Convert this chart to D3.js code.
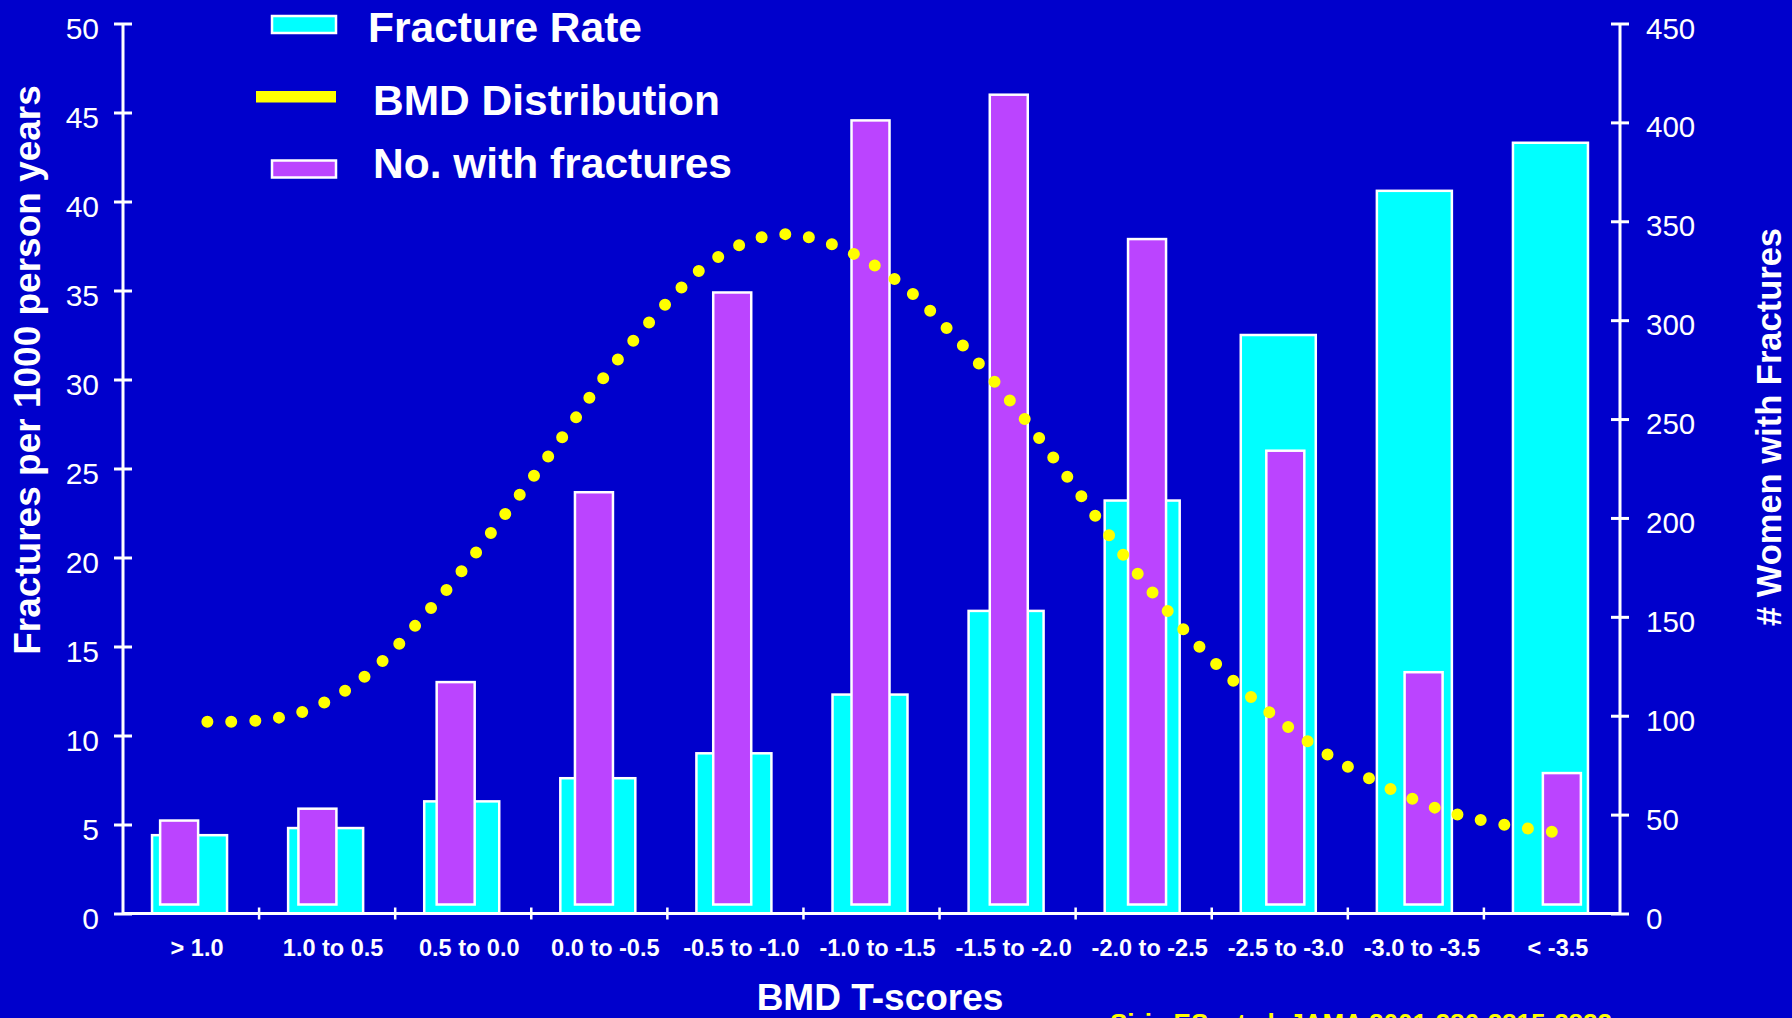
<!DOCTYPE html>
<html>
<head>
<meta charset="utf-8">
<script src="https://cdn.jsdelivr.net/npm/d3@7"></script>
<style>
  html, body { margin: 0; padding: 0; background: #0000cc; overflow: hidden; }
  svg { display: block; }
  text { font-family: "Liberation Sans", Arial, Helvetica, sans-serif; fill: #ffffff; }
</style>
</head>
<body>
<svg id="chart" width="1792" height="1018"></svg>
<script>
// T-score bands along the x axis
const categories = ["> 1.0", "1.0 to 0.5", "0.5 to 0.0", "0.0 to -0.5", "-0.5 to -1.0",
  "-1.0 to -1.5", "-1.5 to -2.0", "-2.0 to -2.5", "-2.5 to -3.0", "-3.0 to -3.5", "< -3.5"];

// Fractures per 1000 person years (left axis)
const fractureRate = [4.4, 4.8, 6.3, 7.6, 9.0, 12.3, 17.0, 23.2, 32.5, 40.6, 43.3];

// Number of women with fractures (right axis)
const withFractures = [47, 53, 117, 213, 314, 401, 414, 341, 234, 122, 71];

// BMD distribution curve: [T-score, height on the right-axis scale]
const bmdDistribution = [
  [1.19, 97], [1.01, 97.5], [0.84, 102], [0.68, 113], [0.54, 128.5], [0.42, 146.5],
  [0.30, 165.5], [0.03, 214], [-0.13, 244], [-0.28, 273.5], [-0.51, 310.5], [-0.64, 327.5],
  [-0.80, 340], [-0.93, 343.5], [-1.06, 340.5], [-1.22, 331], [-1.37, 317], [-1.56, 291],
  [-1.79, 254], [-2.00, 215], [-2.21, 175], [-2.44, 137], [-2.70, 103], [-2.99, 75],
  [-3.31, 54], [-3.48, 47.5], [-3.66, 43], [-3.75, 41.3]
];

// Axis ticks
const leftTicks = [0, 5, 10, 15, 20, 25, 30, 35, 40, 45, 50];
const rightTicks = [0, 50, 100, 150, 200, 250, 300, 350, 400, 450];

const COLORS = { bg: "#0000cc", cyan: "#00ffff", purple: "#bb44ff", yellow: "#ffff00", white: "#ffffff" };

const svg = d3.select("#chart");
svg.append("rect").attr("width", 1792).attr("height", 1018).attr("fill", COLORS.bg);

const plot = { left: 123, right: 1620, top: 23.5, bottom: 913.5 };

const x = d3.scaleBand().domain(categories).range([plot.left, plot.right]).padding(0);
const xCount = d3.scaleBand().domain(categories).range([110, 1631]).padding(0);
const xT = d3.scaleLinear().domain([1.0, -3.5])
  .range([plot.left + x.step(), plot.left + 10 * x.step()]);
const yLeft = d3.scaleLinear().domain([0, 50]).range([plot.bottom, plot.top]);
const yRight = d3.scaleLinear().domain([0, 450]).range([plot.bottom, plot.top]);

// Fracture rate bars
const rateW = 75;
svg.append("g").selectAll("rect").data(categories).join("rect")
  .attr("x", (c) => x(c) + x.step() / 2 - rateW / 2 - 1.5)
  .attr("y", (c, i) => yLeft(fractureRate[i]))
  .attr("width", rateW)
  .attr("height", (c, i) => yLeft(0) - yLeft(fractureRate[i]))
  .attr("fill", COLORS.cyan)
  .attr("stroke", COLORS.white)
  .attr("stroke-width", 2.5);

// Counts of women with fractures
const countW = 38;
const countLift = 9;
svg.append("g").selectAll("rect").data(categories).join("rect")
  .attr("x", (c) => xCount(c) + xCount.step() / 2 - countW / 2)
  .attr("y", (c, i) => yRight(withFractures[i]))
  .attr("width", countW)
  .attr("height", (c, i) => yRight(0) - countLift - yRight(withFractures[i]))
  .attr("fill", COLORS.purple)
  .attr("stroke", COLORS.white)
  .attr("stroke-width", 2.5);

// Dotted BMD distribution curve
const line = d3.line()
  .x((d) => xT(d[0]))
  .y((d) => yRight(d[1]))
  .curve(d3.curveCatmullRom.alpha(0.5));
const curve = svg.append("path")
  .datum(bmdDistribution)
  .attr("d", line)
  .attr("fill", "none")
  .attr("stroke", COLORS.yellow)
  .attr("stroke-width", 12)
  .attr("stroke-linecap", "round");
const len = curve.node().getTotalLength();
const dots = Math.round(len / 24);
const gap = (len - 0.5) / dots;
curve.attr("stroke-dasharray", `0 ${gap}`);

// Left axis
const gL = svg.append("g").attr("transform", `translate(${plot.left},0)`)
  .call(d3.axisLeft(yLeft).tickValues(leftTicks).tickSize(9).tickFormat(d3.format("d")));
gL.select(".domain").attr("stroke", COLORS.white).attr("stroke-width", 3)
  .attr("d", `M0,${plot.top}V${plot.bottom}`);
gL.selectAll(".tick line").attr("stroke", COLORS.white).attr("stroke-width", 3)
  .attr("x1", 9).attr("x2", -9);
gL.selectAll(".tick text").attr("x", -24).attr("dy", null).attr("y", 15)
  .attr("fill", COLORS.white).style("font-size", "30px");

// Right axis
const gR = svg.append("g").attr("transform", `translate(${plot.right},0)`)
  .call(d3.axisRight(yRight).tickValues(rightTicks).tickSize(9).tickFormat(d3.format("d")));
gR.select(".domain").attr("stroke", COLORS.white).attr("stroke-width", 3)
  .attr("d", `M0,${plot.top}V${plot.bottom}`);
gR.selectAll(".tick line").attr("stroke", COLORS.white).attr("stroke-width", 3)
  .attr("x1", -9).attr("x2", 9);
gR.selectAll(".tick text").attr("x", 26).attr("dy", null).attr("y", 14.5)
  .attr("fill", COLORS.white).style("font-size", "29.5px");

// Bottom axis with ticks between bands
const bounds = categories.slice(1).map((c) => x(c));
const gB = svg.append("g");
gB.append("line")
  .attr("x1", plot.left).attr("x2", plot.right)
  .attr("y1", plot.bottom).attr("y2", plot.bottom)
  .attr("stroke", COLORS.white).attr("stroke-width", 3);
gB.selectAll("line.tick").data(bounds).join("line").attr("class", "tick")
  .attr("x1", (d) => d).attr("x2", (d) => d)
  .attr("y1", plot.bottom - 6).attr("y2", plot.bottom + 6)
  .attr("stroke", COLORS.white).attr("stroke-width", 2.5);
gB.selectAll("text").data(categories).join("text")
  .attr("x", (c) => x(c) + x.step() / 2 + 6)
  .attr("y", 956)
  .attr("text-anchor", "middle")
  .style("font-size", "23.5px")
  .style("font-weight", "bold")
  .text((c) => c);

// Axis titles
svg.append("text")
  .attr("transform", "translate(880,1010)")
  .attr("text-anchor", "middle")
  .style("font-size", "37px").style("font-weight", "bold")
  .text("BMD T-scores");
svg.append("text")
  .attr("transform", "translate(40,370) rotate(-90)")
  .attr("text-anchor", "middle")
  .style("font-size", "37px").style("font-weight", "bold")
  .text("Fractures per 1000 person years");
svg.append("text")
  .attr("transform", "translate(1781,427) rotate(-90)")
  .attr("text-anchor", "middle")
  .style("font-size", "34.5px").style("font-weight", "bold")
  .text("# Women with Fractures");

// Source line along the bottom edge
svg.append("text")
  .attr("x", 1110).attr("y", 1032)
  .style("font-size", "26px").style("font-weight", "bold")
  .attr("fill", COLORS.yellow).style("fill", COLORS.yellow)
  .text("Siris ES, et al. JAMA 2001;286:2815-2822");

// Legend
const legend = svg.append("g");
legend.append("rect").attr("x", 272).attr("y", 16).attr("width", 64).attr("height", 17)
  .attr("fill", COLORS.cyan).attr("stroke", COLORS.white).attr("stroke-width", 2.5);
legend.append("rect").attr("x", 256).attr("y", 91).attr("width", 80).attr("height", 11.5)
  .attr("fill", COLORS.yellow);
legend.append("rect").attr("x", 272).attr("y", 160.5).attr("width", 64).attr("height", 17)
  .attr("fill", COLORS.purple).attr("stroke", COLORS.white).attr("stroke-width", 2.5);
const legendText = [
  { label: "Fracture Rate", x: 368, y: 41.5 },
  { label: "BMD Distribution", x: 373, y: 115 },
  { label: "No. with fractures", x: 373, y: 178 }
];
legend.selectAll("text").data(legendText).join("text")
  .attr("x", (d) => d.x).attr("y", (d) => d.y)
  .style("font-size", "42.5px").style("font-weight", "bold")
  .text((d) => d.label);
</script>
</body>
</html>
